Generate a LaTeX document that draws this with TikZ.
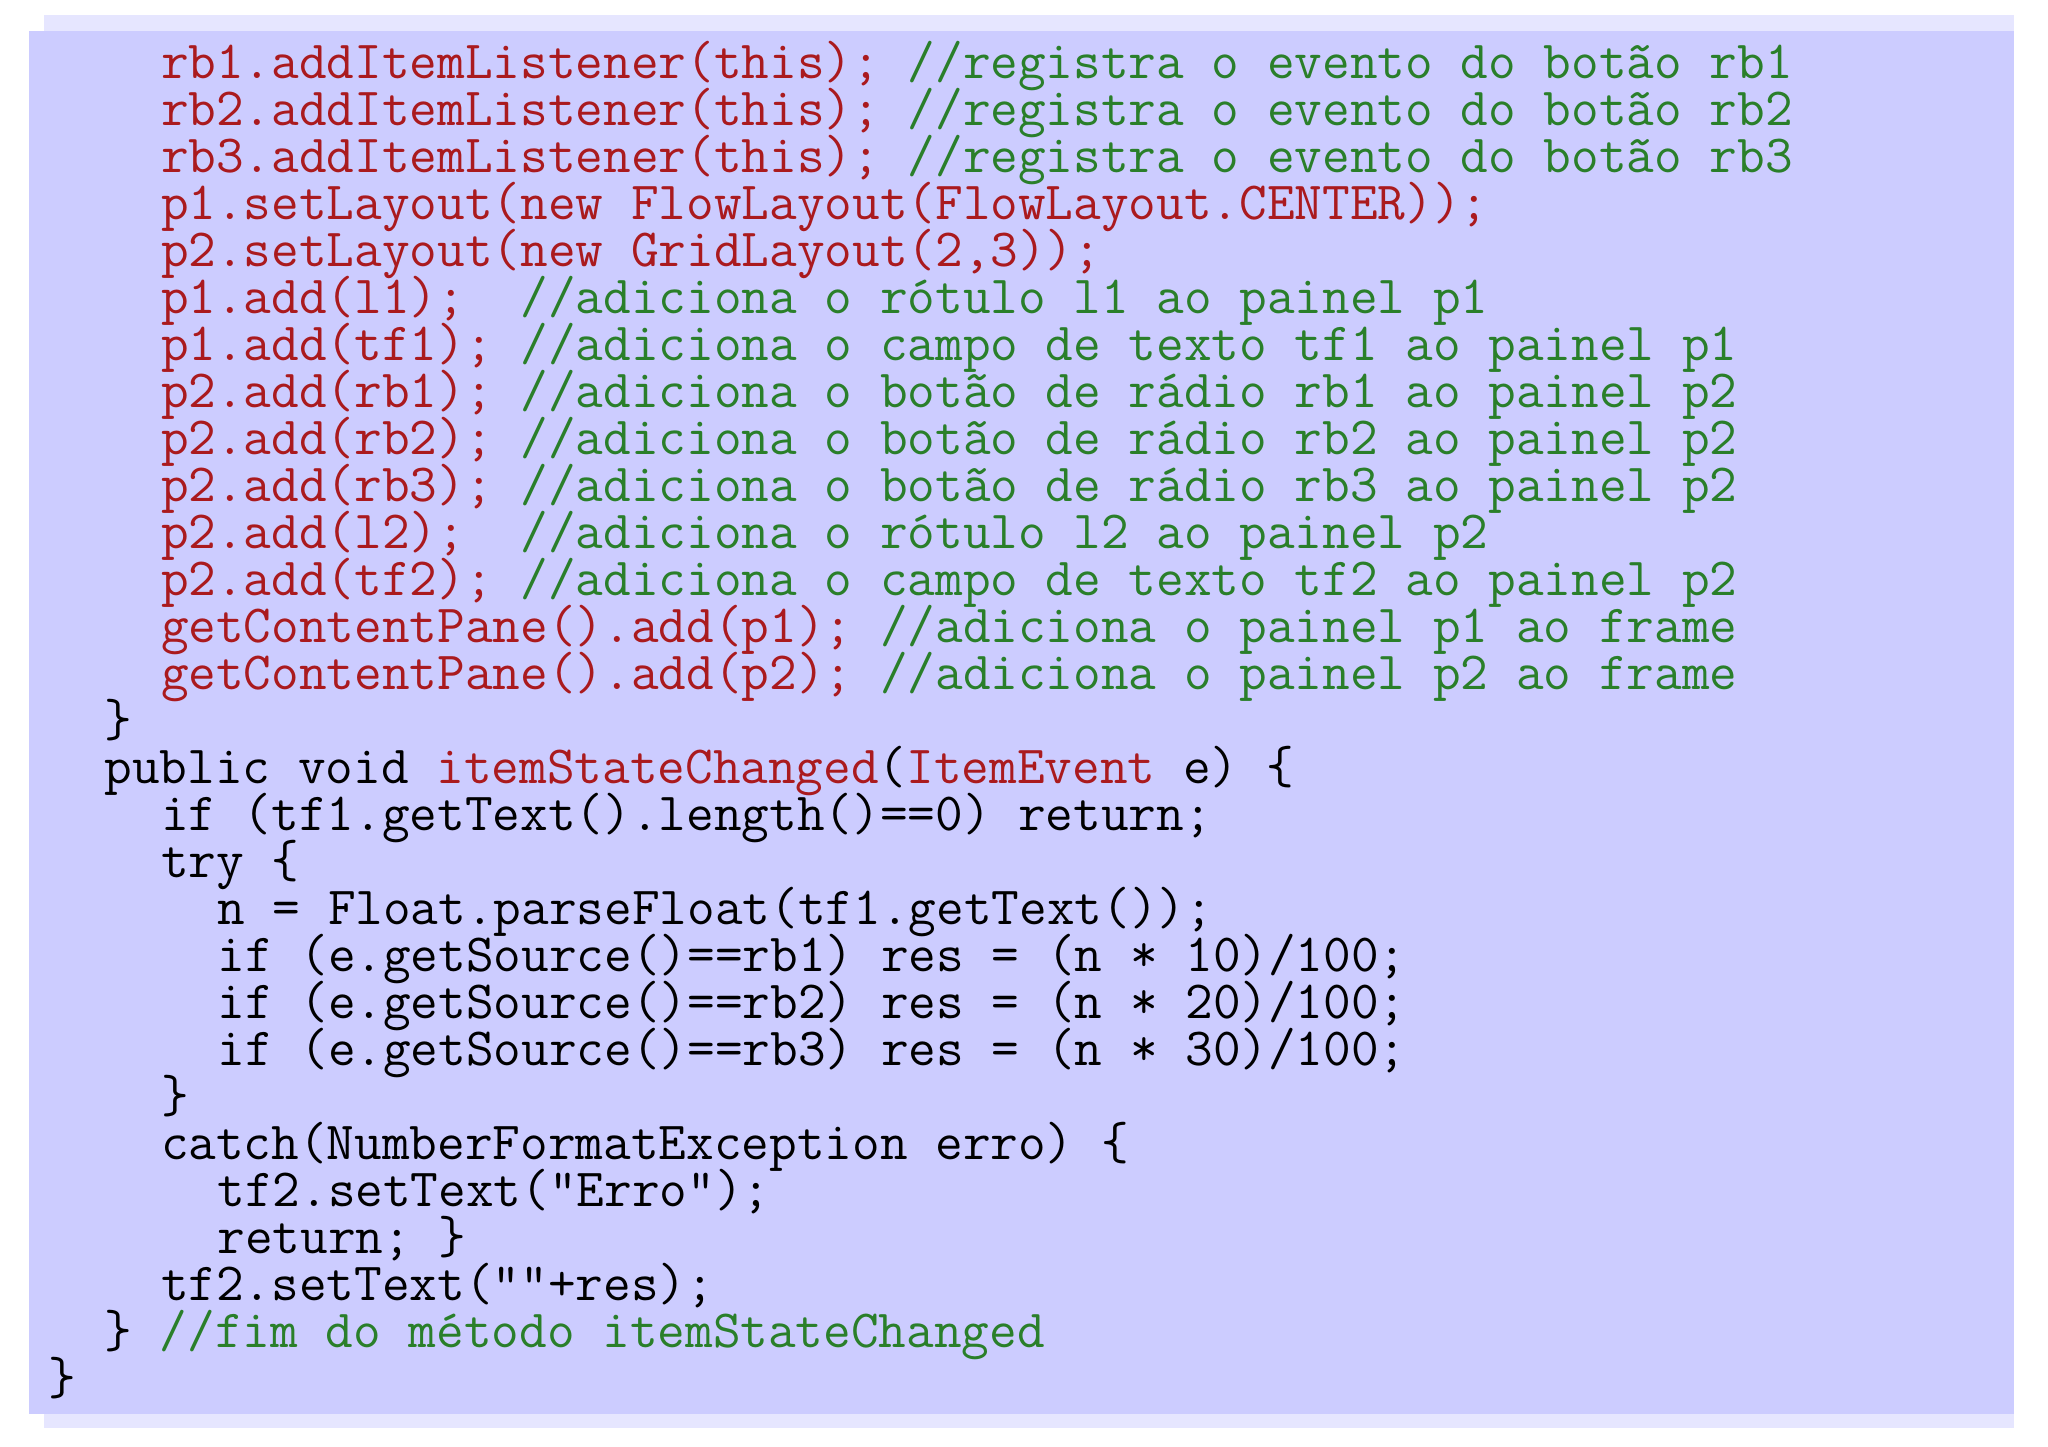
\documentclass[tikz,border=0pt]{standalone}
\usepackage{fontspec}
\definecolor{bgmain}{HTML}{CCCCFF}
\definecolor{bgshadow}{HTML}{E6E6FF}
\definecolor{kred}{HTML}{AA1A1E}
\definecolor{kgreen}{HTML}{2A7F2A}
\newcommand{\R}[1]{\textcolor{kred}{#1}}
\newcommand{\G}[1]{\textcolor{kgreen}{#1}}
\tikzset{codeline/.style={anchor=base west,inner sep=0pt,font=\ttfamily\fontsize{53.7pt}{47pt}\selectfont}}
\newcommand{\Ln}[3]{\node[codeline] (l#1) at ({48pt+#2*28.2pt},{1447pt-79pt-(#1-1)*47pt}) {#3};}
\begin{document}
\begin{tikzpicture}[x=1pt,y=1pt]
\useasboundingbox (0,0) rectangle (2048,1447);
\fill[bgshadow] (44,1447-1428) rectangle (2014,1447-15);
\fill[bgmain] (29,1447-1414) rectangle (2014,1447-31);
\Ln{1}{4}{\R{rb1.addItemListener(this);} \G{//registra o evento do botão rb1}}
\Ln{2}{4}{\R{rb2.addItemListener(this);} \G{//registra o evento do botão rb2}}
\Ln{3}{4}{\R{rb3.addItemListener(this);} \G{//registra o evento do botão rb3}}
\Ln{4}{4}{\R{p1.setLayout(new FlowLayout(FlowLayout.CENTER));}}
\Ln{5}{4}{\R{p2.setLayout(new GridLayout(2,3));}}
\Ln{6}{4}{\R{p1.add(l1);}~~\G{//adiciona o rótulo l1 ao painel p1}}
\Ln{7}{4}{\R{p1.add(tf1);} \G{//adiciona o campo de texto tf1 ao painel p1}}
\Ln{8}{4}{\R{p2.add(rb1);} \G{//adiciona o botão de rádio rb1 ao painel p2}}
\Ln{9}{4}{\R{p2.add(rb2);} \G{//adiciona o botão de rádio rb2 ao painel p2}}
\Ln{10}{4}{\R{p2.add(rb3);} \G{//adiciona o botão de rádio rb3 ao painel p2}}
\Ln{11}{4}{\R{p2.add(l2);}~~\G{//adiciona o rótulo l2 ao painel p2}}
\Ln{12}{4}{\R{p2.add(tf2);} \G{//adiciona o campo de texto tf2 ao painel p2}}
\Ln{13}{4}{\R{getContentPane().add(p1);} \G{//adiciona o painel p1 ao frame}}
\Ln{14}{4}{\R{getContentPane().add(p2);} \G{//adiciona o painel p2 ao frame}}
\Ln{15}{2}{\}}
\Ln{16}{2}{public void \R{itemStateChanged}(\R{ItemEvent} e) \{}
\Ln{17}{4}{if (tf1.getText().length()==0) return;}
\Ln{18}{4}{try \{}
\Ln{19}{6}{n = Float.parseFloat(tf1.getText());}
\Ln{20}{6}{if (e.getSource()==rb1) res = (n * 10)/100;}
\Ln{21}{6}{if (e.getSource()==rb2) res = (n * 20)/100;}
\Ln{22}{6}{if (e.getSource()==rb3) res = (n * 30)/100;}
\Ln{23}{4}{\}}
\Ln{24}{4}{catch(NumberFormatException erro) \{}
\Ln{25}{6}{tf2.setText("Erro");}
\Ln{26}{6}{return; \}}
\Ln{27}{4}{tf2.setText(""+res);}
\Ln{28}{2}{\} \G{//fim do método itemStateChanged}}
\Ln{29}{0}{\}}
\end{tikzpicture}
\end{document}
